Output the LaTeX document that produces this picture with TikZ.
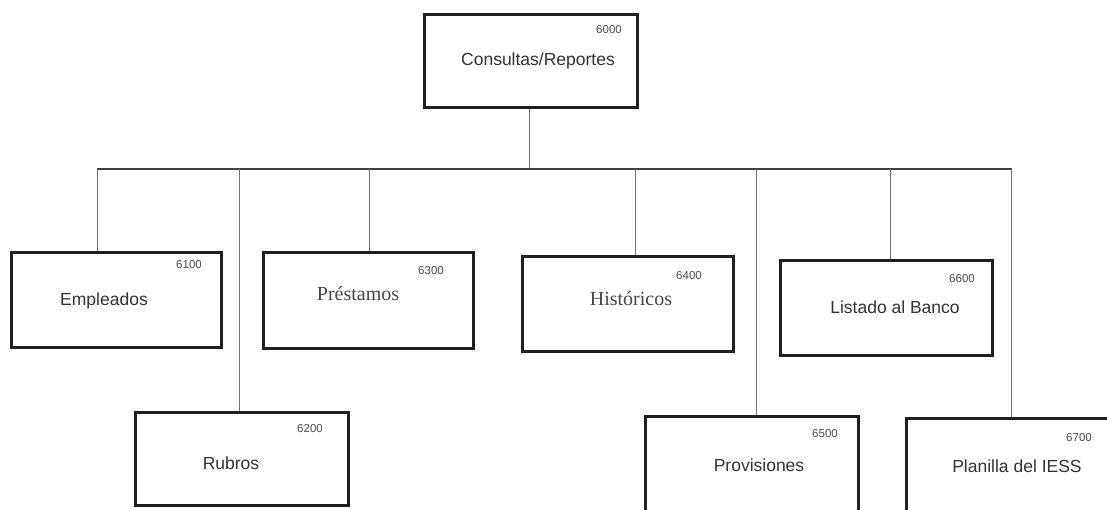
\documentclass[tikz,border=0pt]{standalone}
\usepackage{fontspec}
\setmainfont{Liberation Sans}
\newfontfamily\serifn{Liberation Serif}
\begin{document}
\begin{tikzpicture}[x=1pt,y=-1pt,
  box/.style={draw=black!88,line width=3pt,rectangle,inner sep=0pt},
  wire/.style={draw=black!55,line width=0.8pt},
  buswire/.style={draw=black!75,line width=1.4pt},
  ttl/.style={anchor=base,inner sep=0pt,text=black!80,font=\fontsize{17.5}{20}\selectfont},
  sttl/.style={anchor=base,inner sep=0pt,text=black!72,font=\serifn\fontsize{20}{22}\selectfont},
  num/.style={anchor=base east,inner sep=0pt,text=black!70,font=\fontsize{11.5}{12}\selectfont}]
\useasboundingbox (0,0) rectangle (1107,509);
\clip (0,0) rectangle (1107,509);
\fill[white] (0,0) rectangle (1107,509);
% boxes
\node[box,minimum width=213pt,minimum height=93pt] (top) at (530.5,60.5) {};
\node[box,minimum width=210pt,minimum height=95pt] (emp) at (116,299.5) {};
\node[box,minimum width=210pt,minimum height=96pt] (pre) at (368,300) {};
\node[box,minimum width=211pt,minimum height=95pt] (his) at (627.5,303.5) {};
\node[box,minimum width=212pt,minimum height=95pt] (lis) at (886,307.5) {};
\node[box,minimum width=213pt,minimum height=93pt] (rub) at (241.5,458.5) {};
\node[box,minimum width=213pt,minimum height=96pt] (pro) at (751.5,464) {};
\node[box,minimum width=213pt,minimum height=96pt] (pla) at (1012.5,466) {};
% texts
\node[num] (n0) at (622,33) {6000};
\node[ttl] (t0) at (538,65) {Consultas/Reportes};
\node[num] (n1) at (202,268) {6100};
\node[ttl] (t1) at (104,305) {Empleados};
\node[num] (n3) at (444,274) {6300};
\node[sttl] (t3) at (358,300) {Préstamos};
\node[num] (n4) at (702,279) {6400};
\node[sttl] (t4) at (631,305) {Históricos};
\node[num] (n6) at (975,282) {6600};
\node[ttl] (t6) at (895,313) {Listado al Banco};
\node[num] (n2) at (323,432) {6200};
\node[ttl] (t2) at (231,469) {Rubros};
\node[num] (n5) at (838,437) {6500};
\node[ttl] (t5) at (759,471) {Provisiones};
\node[num] (n7) at (1092,441) {6700};
\node[ttl] (t7) at (1017,472) {Planilla del IESS};
% bus and taps
\coordinate (busL) at (97,169);
\coordinate (busR) at (1012,169);
\coordinate (c0) at (529,169);
\coordinate (c1) at (97,169);
\coordinate (c2) at (239,169);
\coordinate (c3) at (369,169);
\coordinate (c4) at (635,169);
\coordinate (c5) at (756,169);
\coordinate (c6) at (890,169);
\coordinate (c7) at (1011,169);
\draw[wire] (top.south -| c0) -- (c0);
\draw[buswire] (busL) -- (busR);
\draw[wire] (c1) -- (c1 |- emp.north);
\draw[wire] (c2) -- (c2 |- rub.north);
\draw[wire] (c3) -- (c3 |- pre.north);
\draw[wire] (c4) -- (c4 |- his.north);
\draw[wire] (c5) -- (c5 |- pro.north);
\draw[wire] (c6) -- (c6 |- lis.north);
\draw[wire] (c7) -- (c7 |- pla.north);
\end{tikzpicture}
\end{document}
